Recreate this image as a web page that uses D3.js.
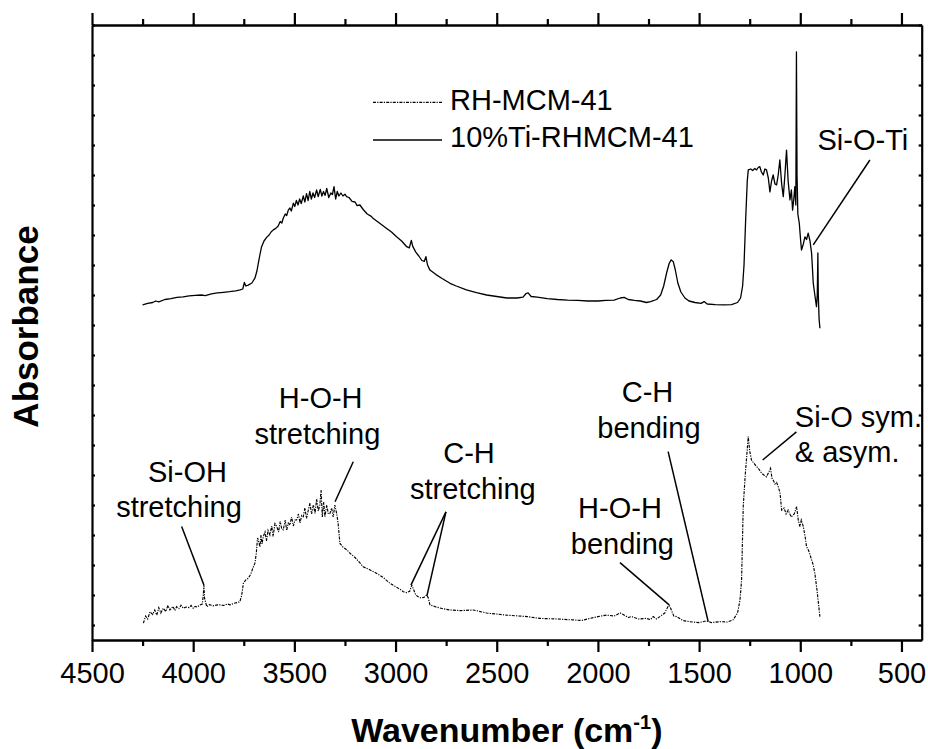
<!DOCTYPE html>
<html>
<head>
<meta charset="utf-8">
<script src="https://cdn.jsdelivr.net/npm/d3@7"></script>
<style>
  body { margin: 0; background: #fff; }
  text { font-family: "Liberation Sans", Arial, Helvetica, sans-serif; fill: #000; }
</style>
</head>
<body>
<svg id="chart" width="928" height="749"></svg>
<script>
// FTIR spectra: wavenumber (cm-1) and absorbance (a.u., stacked)
const rhWave = [4246,4235,4225,4213,4200,4190,4180,4170,4160,4148,4135,4125,4115,4100,4090,4082,4070,4060,4049,4035,4020,4010,4000,3990,3980,3966,3955,3950,3947,3944,3933,3920,3900,3880,3868,3850,3830,3818,3800,3780,3769,3760,3752,3740,3728,3715,3705,3695,3688,3682,3678,3670,3665,3660,3654,3645,3638,3630,3621,3612,3605,3596,3587,3578,3570,3562,3555,3545,3538,3530,3522,3514,3505,3497,3489,3480,3472,3464,3456,3448,3440,3432,3423,3415,3406,3398,3390,3382,3374,3368,3362,3355,3349,3340,3332,3324,3316,3308,3300,3291,3284,3275,3260,3240,3225,3200,3180,3160,3130,3093,3060,3028,3000,2975,2962,2945,2930,2920,2912,2900,2888,2875,2860,2846,2838,2830,2800,2770,2731,2680,2616,2550,2451,2350,2287,2200,2122,2080,2040,2000,1957,1920,1890,1875,1850,1834,1800,1760,1740,1727,1710,1694,1670,1655,1648,1640,1625,1611,1580,1546,1500,1463,1440,1397,1360,1332,1310,1298,1290,1282,1272,1265,1257,1250,1241,1230,1216,1205,1191,1180,1167,1155,1147,1140,1134,1125,1117,1109,1100,1092,1080,1070,1060,1045,1030,1018,1010,1002,995,985,975,969,960,952,944,936,928,918,912,903];
const rhAbs = [0.006,0.030,0.020,0.044,0.035,0.050,0.033,0.058,0.040,0.056,0.045,0.065,0.050,0.062,0.048,0.061,0.055,0.066,0.056,0.060,0.058,0.065,0.056,0.062,0.060,0.067,0.070,0.100,0.133,0.090,0.061,0.068,0.064,0.067,0.067,0.065,0.070,0.067,0.072,0.075,0.078,0.100,0.139,0.150,0.156,0.170,0.190,0.206,0.240,0.290,0.283,0.260,0.300,0.270,0.294,0.310,0.280,0.315,0.300,0.330,0.295,0.338,0.328,0.310,0.345,0.320,0.317,0.350,0.315,0.340,0.333,0.360,0.330,0.350,0.350,0.370,0.340,0.365,0.361,0.390,0.355,0.380,0.406,0.370,0.400,0.372,0.420,0.380,0.400,0.450,0.360,0.410,0.361,0.400,0.370,0.372,0.390,0.360,0.400,0.372,0.340,0.272,0.260,0.250,0.239,0.225,0.210,0.194,0.185,0.172,0.158,0.139,0.128,0.118,0.111,0.108,0.112,0.133,0.120,0.100,0.094,0.090,0.092,0.100,0.090,0.067,0.060,0.055,0.050,0.048,0.050,0.040,0.033,0.028,0.022,0.020,0.017,0.015,0.022,0.028,0.033,0.030,0.040,0.035,0.025,0.028,0.020,0.022,0.018,0.028,0.020,0.028,0.040,0.060,0.065,0.055,0.030,0.028,0.015,0.011,0.008,0.014,0.008,0.011,0.010,0.017,0.040,0.083,0.150,0.394,0.500,0.561,0.628,0.580,0.550,0.540,0.528,0.520,0.506,0.500,0.494,0.510,0.522,0.490,0.483,0.470,0.475,0.461,0.440,0.383,0.390,0.370,0.383,0.360,0.370,0.394,0.350,0.328,0.350,0.328,0.290,0.261,0.250,0.235,0.217,0.200,0.172,0.120,0.083,0.028];

const tiWave = [4250,4225,4200,4185,4170,4140,4110,4080,4050,4020,3990,3960,3940,3910,3880,3850,3820,3790,3768,3755,3747,3740,3728,3710,3695,3685,3678,3670,3662,3650,3637,3625,3615,3604,3592,3580,3570,3562,3555,3545,3538,3530,3522,3515,3505,3498,3490,3482,3474,3466,3456,3448,3440,3432,3424,3416,3408,3400,3390,3382,3372,3364,3356,3348,3340,3330,3320,3312,3304,3296,3288,3280,3270,3260,3250,3242,3230,3215,3200,3190,3176,3160,3140,3120,3110,3090,3070,3044,3020,2995,2970,2945,2932,2922,2915,2900,2885,2870,2858,2850,2842,2830,2800,2770,2731,2700,2650,2600,2550,2500,2450,2400,2370,2355,2345,2330,2300,2250,2200,2150,2100,2050,2000,1960,1920,1890,1870,1850,1820,1790,1760,1740,1710,1690,1675,1660,1648,1638,1628,1618,1605,1590,1570,1550,1520,1490,1475,1460,1420,1380,1340,1310,1295,1285,1278,1270,1262,1257,1245,1235,1225,1216,1208,1200,1192,1183,1175,1167,1158,1150,1142,1134,1125,1117,1109,1101,1092,1084,1076,1068,1060,1051,1044,1038,1032,1027,1022,1019,1016,1012,1005,998,994,985,977,969,961,952,944,936,928,920,916,913,911,907,903];
const tiAbs = [1.067,1.072,1.075,1.080,1.077,1.085,1.088,1.092,1.094,1.097,1.099,1.100,1.098,1.104,1.107,1.109,1.111,1.114,1.117,1.120,1.142,1.130,1.133,1.140,1.156,1.180,1.206,1.235,1.261,1.280,1.292,1.300,1.310,1.317,1.322,1.330,1.345,1.340,1.356,1.370,1.365,1.383,1.390,1.380,1.406,1.395,1.415,1.400,1.420,1.405,1.430,1.410,1.438,1.415,1.445,1.420,1.440,1.425,1.450,1.428,1.452,1.430,1.445,1.432,1.455,1.425,1.440,1.435,1.461,1.420,1.445,1.430,1.440,1.430,1.436,1.428,1.425,1.412,1.410,1.398,1.400,1.385,1.370,1.362,1.355,1.345,1.335,1.322,1.310,1.294,1.280,1.261,1.257,1.282,1.262,1.243,1.230,1.215,1.212,1.228,1.200,1.183,1.168,1.155,1.139,1.130,1.117,1.108,1.100,1.095,1.090,1.090,1.093,1.105,1.107,1.095,1.093,1.088,1.085,1.083,1.082,1.080,1.080,1.082,1.083,1.090,1.092,1.085,1.082,1.080,1.075,1.078,1.085,1.100,1.130,1.175,1.205,1.217,1.212,1.185,1.140,1.110,1.090,1.080,1.075,1.072,1.078,1.070,1.068,1.067,1.068,1.075,1.090,1.130,1.200,1.350,1.480,1.517,1.520,1.515,1.522,1.517,1.525,1.528,1.510,1.500,1.520,1.517,1.490,1.444,1.480,1.500,1.470,1.467,1.500,1.550,1.470,1.428,1.500,1.583,1.480,1.417,1.450,1.383,1.420,1.461,1.400,1.910,1.500,1.370,1.340,1.280,1.250,1.270,1.294,1.285,1.306,1.280,1.239,1.140,1.100,1.061,1.100,1.240,1.100,1.020,0.989];

const seriesNames = ["RH-MCM-41", "10%Ti-RHMCM-41"];

// Axis ticks
const majorTicks = [4500, 4000, 3500, 3000, 2500, 2000, 1500, 1000, 500];
const minorTicks = [4250, 3750, 3250, 2750, 2250, 1750, 1250, 750];
const yTicks = d3.range(0, 21).map(i => i / 10);

// Band assignments: text rows anchored in data space, leader lines from label to band
const labelText = ["Si-OH", "stretching", "H-O-H", "stretching", "C-H", "stretching",
                   "H-O-H", "bending", "C-H", "bending", "Si-O sym.", "& asym.", "Si-O-Ti"];
const labelWave = [4028, 4070, 3370, 3386, 2637, 2618, 1891, 1879, 1755, 1748, 1027, 1027, 915];
const labelAbs  = [0.478, 0.361, 0.722, 0.603, 0.540, 0.420, 0.356, 0.237, 0.744, 0.623, 0.661, 0.544, 1.583];
const labelAlign = ["middle","middle","middle","middle","middle","middle","middle","middle","middle","middle","start","start","start"];

const leaderFrom = [[4057,0.328],[3209,0.544],[2751,0.377],[2751,0.377],[1891,0.208],[1653,0.578],[1019,0.644],[656,1.550]];
const leaderTo   = [[3947,0.133],[3299,0.411],[2924,0.133],[2845,0.097],[1648,0.067],[1455,0.011],[1186,0.550],[936,1.267]];

const svg = d3.select("#chart");
const W = 928, H = 749;
const plot = { left: 92, right: 921.7, top: 25, bottom: 640 };

const x = d3.scaleLinear().domain([4500, 400]).range([plot.left, plot.right]);
const y = d3.scaleLinear().domain([-0.05, 2.0]).range([plot.bottom, plot.top]);

svg.append("rect").attr("width", W).attr("height", H).attr("fill", "#fff");

// spectra
const line = d3.line().x(d => x(d[0])).y(d => y(d[1]));
const rh = d3.zip(rhWave, rhAbs);
const ti = d3.zip(tiWave, tiAbs);
const rhDash = "3,1.2,1.2,1.2";

svg.append("path").datum(rh)
  .attr("d", line).attr("fill", "none").attr("stroke", "#000")
  .attr("stroke-width", 1.15).attr("stroke-dasharray", rhDash);

svg.append("path").datum(ti)
  .attr("d", line).attr("fill", "none").attr("stroke", "#000")
  .attr("stroke-width", 1.3).attr("stroke-linejoin", "round");

// axes
function styleAxis(g, w) {
  g.selectAll(".domain").attr("stroke", "#000").attr("stroke-width", w);
  g.selectAll(".tick line").attr("stroke", "#000").attr("stroke-width", w);
}

const xb = svg.append("g").attr("transform", `translate(0,${plot.bottom})`)
  .call(d3.axisBottom(x).tickValues(majorTicks).tickSize(12).tickSizeOuter(0).tickFormat(d3.format("d")));
styleAxis(xb, 2.2);
xb.selectAll("text").attr("y", 43).attr("dy", 0).attr("font-size", 29)
  .style("font-family", '"Liberation Sans", Arial, sans-serif');

const xbm = svg.append("g").attr("transform", `translate(0,${plot.bottom})`)
  .call(d3.axisBottom(x).tickValues(minorTicks).tickSize(6).tickSizeOuter(0).tickFormat(""));
styleAxis(xbm, 2.2);

const xt = svg.append("g").attr("transform", `translate(0,${plot.top})`)
  .call(d3.axisTop(x).tickValues(majorTicks).tickSize(12).tickSizeOuter(0).tickFormat(""));
styleAxis(xt, 2.2);
const xtm = svg.append("g").attr("transform", `translate(0,${plot.top})`)
  .call(d3.axisTop(x).tickValues(minorTicks).tickSize(6).tickSizeOuter(0).tickFormat(""));
styleAxis(xtm, 2.2);

const yl = svg.append("g").attr("transform", `translate(${plot.left},0)`)
  .call(d3.axisLeft(y).tickValues(yTicks).tickSize(-3).tickSizeOuter(0).tickFormat(""));
styleAxis(yl, 2.2);
const yr = svg.append("g").attr("transform", `translate(${plot.right},0)`)
  .call(d3.axisRight(y).tickValues(yTicks).tickSize(-3).tickSizeOuter(0).tickFormat(""));
styleAxis(yr, 2.2);

// axis titles
const xTitle = svg.append("text")
  .attr("x", (plot.left + plot.right) / 2).attr("y", 742)
  .attr("text-anchor", "middle").attr("font-size", 34).attr("font-weight", "bold");
xTitle.append("tspan").text("Wavenumber (cm");
xTitle.append("tspan").attr("font-size", 20).attr("dy", -13).text("-1");
xTitle.append("tspan").attr("dy", 13).text(")");

svg.append("text")
  .attr("transform", `translate(38,${(plot.top + plot.bottom) / 2 - 6}) rotate(-90)`)
  .attr("text-anchor", "middle").attr("font-size", 35).attr("font-weight", "bold")
  .text("Absorbance");

// legend
const legend = svg.append("g");
const legendRows = [
  { name: seriesNames[0], dash: rhDash, width: 1.15, ly: 102.3 },
  { name: seriesNames[1], dash: null, width: 1.3, ly: 140 }
];
legendRows.forEach(r => {
  legend.append("line").attr("x1", 373).attr("x2", 442).attr("y1", r.ly).attr("y2", r.ly)
    .attr("stroke", "#000").attr("stroke-width", r.width)
    .attr("stroke-dasharray", r.dash);
  legend.append("text").attr("x", 450).attr("y", r.ly + 7.3)
    .attr("font-size", 29).text(r.name);
});

// band annotations
const notes = svg.append("g");
labelText.forEach((t, i) => {
  notes.append("text")
    .attr("x", x(labelWave[i])).attr("y", y(labelAbs[i]))
    .attr("text-anchor", labelAlign[i]).attr("font-size", 29).text(t);
});
leaderFrom.forEach((p, i) => {
  notes.append("line")
    .attr("x1", x(p[0])).attr("y1", y(p[1]))
    .attr("x2", x(leaderTo[i][0])).attr("y2", y(leaderTo[i][1]))
    .attr("stroke", "#000").attr("stroke-width", 1.5);
});
</script>
</body>
</html>
